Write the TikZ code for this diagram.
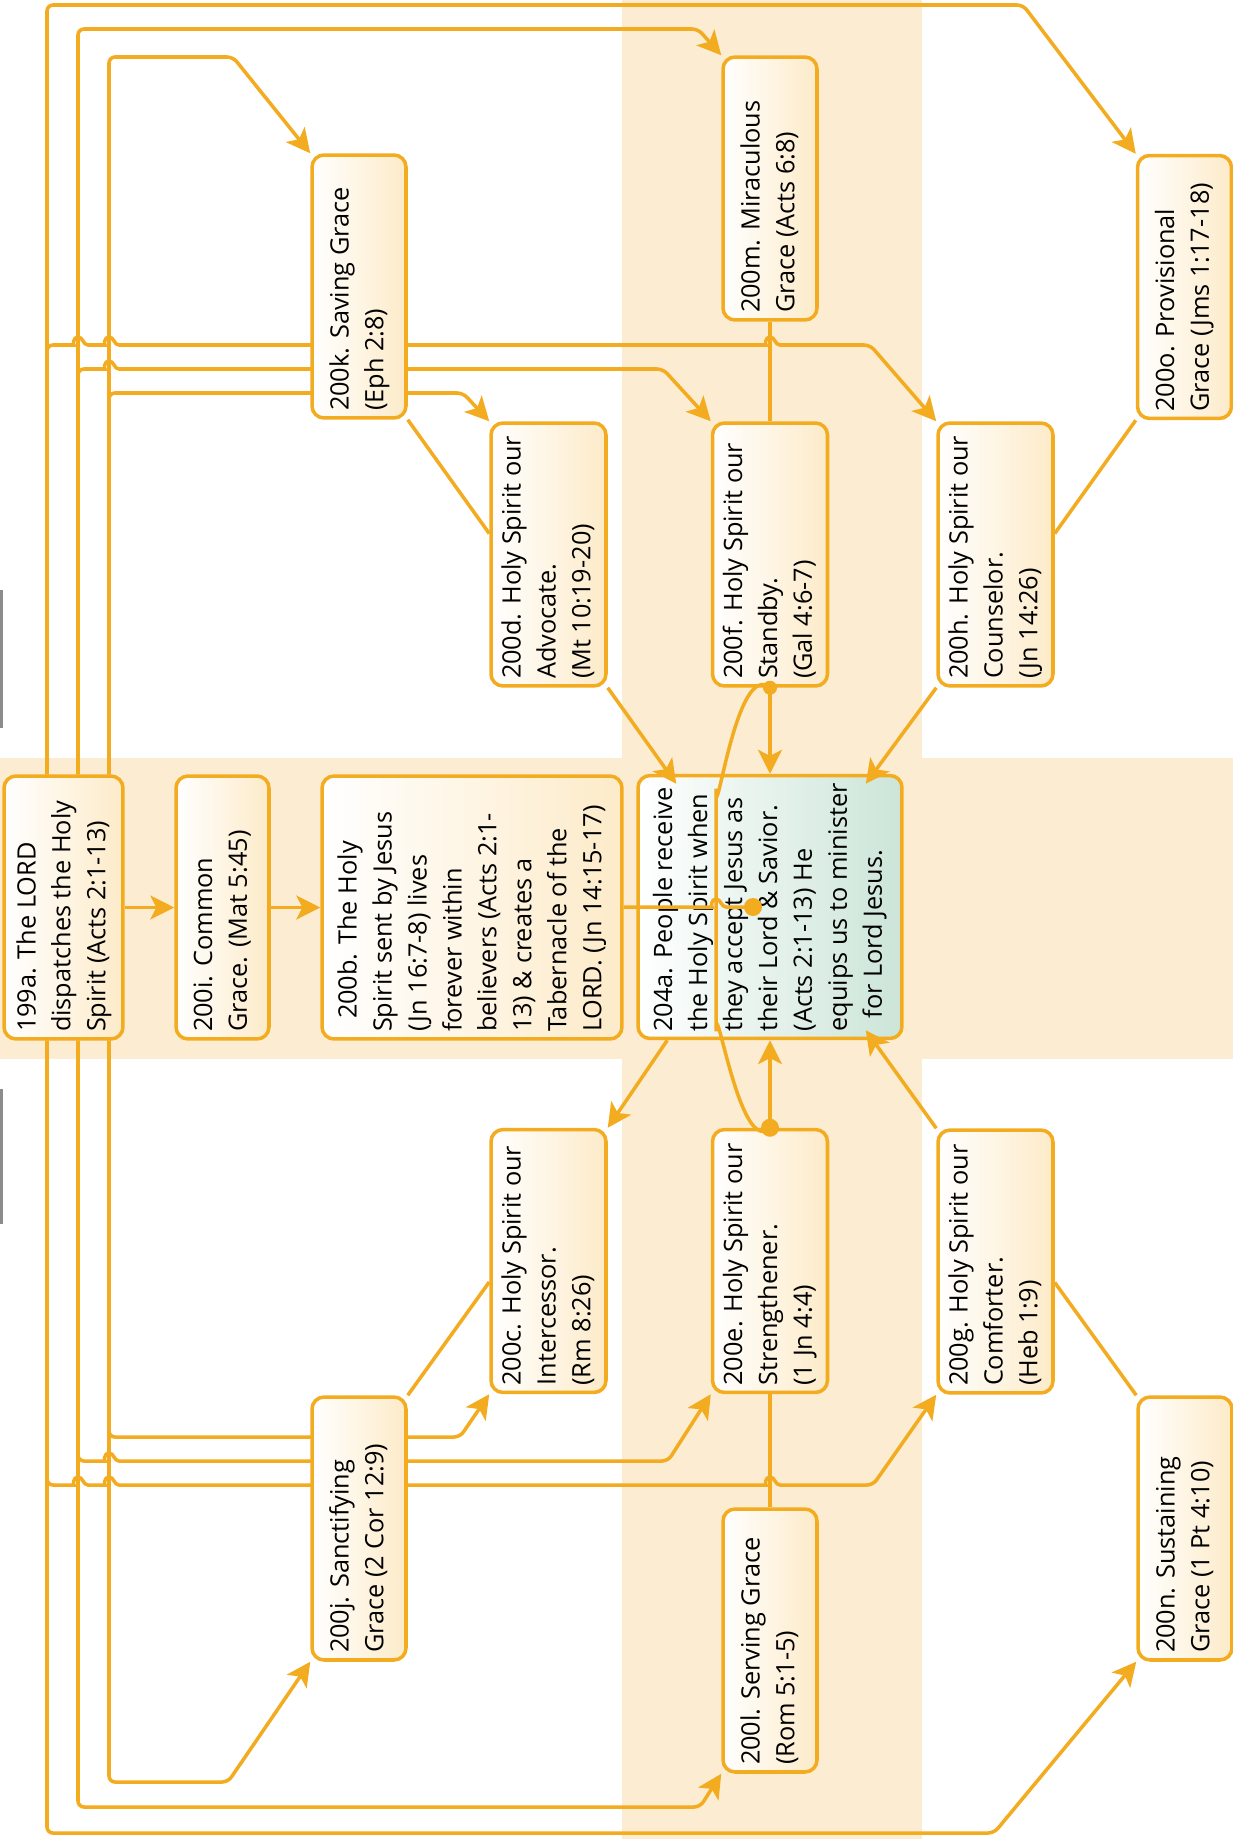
\documentclass[tikz,border=0pt]{standalone}
\usepackage{fontspec}
\setmainfont{Open Sans}
\usepackage{tikz}
\usetikzlibrary{arrows.meta}
\tikzset{>={Stealth[length=13.6pt,width=13.6pt,inset=3.4pt]}}
\definecolor{o1}{HTML}{F3AB1F}
\definecolor{o2}{HTML}{FCEDD2}
\definecolor{o3}{HTML}{FDEBC9}
\definecolor{g1}{HTML}{CCE5D8}
\pgfdeclarelayer{back}
\pgfdeclarelayer{wires}
\pgfsetlayers{back,wires,main}
\tikzstyle{wire}=[o1,line width=2pt,rounded corners=0.12cm]
\tikzstyle{joint}=[fill=o1]
\tikzstyle{card}=[draw=o1,line width=2pt,rounded corners=0.24cm,left color=white,right color=o3,
  inner sep=0pt,minimum height=5.26cm,font=\fontsize{14.4pt}{19.9pt}\selectfont]
\tikzstyle{narrow card}=[card,minimum width=1.88cm]
\tikzstyle{wide card}=[card,minimum width=2.3cm]
\tikzset{hop/.style={insert path={[sharp corners] to[out=0,in=180] ++(10,-8) to[out=0,in=180] ++(10,8) [rounded corners=0.12cm]}}}
\newcommand{\vlabel}[1]{\rotatebox{90}{\makebox[4.98cm][l]{\begin{tabular}{@{}l@{}}#1\end{tabular}}}}

\begin{document}
\begin{tikzpicture}[x=0.02cm,y=-0.02cm]
  \path[use as bounding box] (0,0) rectangle (1233,1839);
  \begin{pgfonlayer}{back}
    \fill[white] (0,0) rectangle (1233,1839);
    \fill[o2] (622,0) rectangle (922,1839);
    \fill[o2] (0,758) rectangle (1233,1059);
    \draw[gray!90,line width=0.06cm] (1.5,590) -- (1.5,728) (1.5,1089) -- (1.5,1224);
  \end{pgfonlayer}

  % middle row
  \node[card,minimum width=2.38cm] (a199) at (63.5,907.5) {\vlabel{199a. The LORD\\dispatches the Holy\\Spirit (Acts 2:1-13)}};
  \node[card,minimum width=1.86cm] (i200) at (222.5,907.5) {\vlabel{200i. Common\\Grace. (Mat 5:45)}};
  \node[card,minimum width=6cm] (b200) at (472,907.5) {\vlabel{\hspace*{0.26cm}200b. The Holy\\Spirit sent by Jesus\\(Jn 16:7-8) lives\\forever within\\believers (Acts 2:1-\\13) \& creates a\\Tabernacle of the\\LORD. (Jn 14:15-17)}};
  \node[card,minimum width=5.28cm,right color=g1] (a204) at (770,907) {\vlabel{204a. People receive\\the Holy Spirit when\\they accept Jesus as\\their Lord \& Savior.\\(Acts 2:1-13) He\\equips us to minister\\\hspace*{0.26cm}for Lord Jesus.}};

  % upper half
  \node[narrow card] (k200) at (359,286.5) {\vlabel{200k. Saving Grace\\(Eph 2:8)}};
  \node[narrow card] (m200) at (770,188.5) {\vlabel{200m. Miraculous\\Grace (Acts 6:8)}};
  \node[narrow card] (o200) at (1184.5,287) {\vlabel{200o. Provisional\\Grace (Jms 1:17-18)}};
  \node[wide card] (d200) at (548.5,554.5) {\vlabel{200d. Holy Spirit our\\Advocate.\\(Mt 10:19-20)}};
  \node[wide card] (f200) at (770,554.5) {\vlabel{200f. Holy Spirit our\\Standby.\\(Gal 4:6-7)}};
  \node[wide card] (h200) at (995.5,554.5) {\vlabel{200h. Holy Spirit our\\Counselor.\\(Jn 14:26)}};

  % lower half
  \node[wide card] (c200) at (548.5,1261) {\vlabel{200c. Holy Spirit our\\Intercessor.\\(Rm 8:26)}};
  \node[wide card] (e200) at (770,1261) {\vlabel{200e. Holy Spirit our\\Strengthener.\\(1 Jn 4:4)}};
  \node[wide card] (g200) at (995.5,1261.5) {\vlabel{200g. Holy Spirit our\\Comforter.\\(Heb 1:9)}};
  \node[narrow card] (j200) at (359,1528.5) {\vlabel{200j. Sanctifying\\Grace (2 Cor 12:9)}};
  \node[narrow card] (l200) at (770,1640.5) {\vlabel{200l. Serving Grace\\(Rom 5:1-5)}};
  \node[narrow card] (n200) at (1185,1528.5) {\vlabel{200n. Sustaining\\Grace (1 Pt 4:10)}};

  \begin{pgfonlayer}{wires}
    % fan out of 199a, upwards
    \draw[wire,->] (47,0 |- a199.north) |- (1023,5) -- (o200.north west);
    \draw[wire,->] (78,0 |- a199.north) |- (698,29) -- (m200.north west);
    \draw[wire,->] (109,0 |- a199.north) |- (233,57) -- (k200.north west);
    \draw[wire,->] (47,0 |- a199.north) -- (47,345) -- (68,345) [hop] -- (99,345) [hop]
                   -- (760,345) [hop] -- (870,345) -- (h200.north west);
    \draw[wire,->] (78,0 |- a199.north) -- (78,369) -- (99,369) [hop] -- (663,369) -- (f200.north west);
    \draw[wire,->] (109,0 |- a199.north) -- (109,393) -- (463,393) -- (d200.north west);
    % fan out of 199a, downwards
    \draw[wire,->] (47,0 |- a199.south) |- (994,1833) -- (n200.south west);
    \draw[wire,->] (78,0 |- a199.south) |- (700,1807) -- (l200.south west);
    \draw[wire,->] (109,0 |- a199.south) |- (228,1782) -- (j200.south west);
    \draw[wire,->] (47,0 |- a199.south) -- (47,1485) -- (68,1485) [hop] -- (99,1485) [hop]
                   -- (760,1485) [hop] -- (873,1485) -- (g200.south west);
    \draw[wire,->] (78,0 |- a199.south) -- (78,1461) -- (99,1461) [hop] -- (668,1461) -- (e200.south west);
    \draw[wire,->] (109,0 |- a199.south) -- (109,1437) -- (460,1437) -- (c200.south west);

    \draw[wire,->] (a199) -- (i200);
    \draw[wire,->] (i200) -- (b200);
    \draw[wire] (m200) -- (f200);
    \draw[wire] (e200) -- (l200);
    \draw[wire] (k200.south east) -- ([shift={(0,-21)}]d200.west);
    \draw[wire] (o200.south west) -- ([shift={(0,-21)}]h200.east);
    \draw[wire] (j200.north east) -- ([shift={(0,21)}]c200.west);
    \draw[wire] (n200.north west) -- ([shift={(0,21)}]g200.east);
  \end{pgfonlayer}

  % into and out of 204a
  \draw[wire,->] (d200.south east) -- ([shift={(40,10)}]a204.north west);
  \draw[wire,->] (h200.south west) -- ([shift={(-38,10)}]a204.north east);
  \draw[wire,->] (f200.south) -- (a204.north);
  \draw[wire,->] (e200.north) -- (a204.south);
  \draw[wire,->] ([shift={(31,0)}]a204.south west) -- (c200.north east);
  \draw[wire,->] (g200.north west) -- ([shift={(-38,-10)}]a204.south east);
  \coordinate (hub) at (753,907);
  \draw[wire] (b200) -- (706,907) [hop] -- (hub);
  \draw[wire] (f200.south) to[out=140,in=270] (716,785) -- (716,1035) to[out=90,in=225] (e200.north);
  \fill[joint] (hub) circle[radius=9];
  \fill[joint] (f200.south) circle[radius=7];
  \fill[joint] (e200.north) circle[radius=9];
\end{tikzpicture}
\end{document}
